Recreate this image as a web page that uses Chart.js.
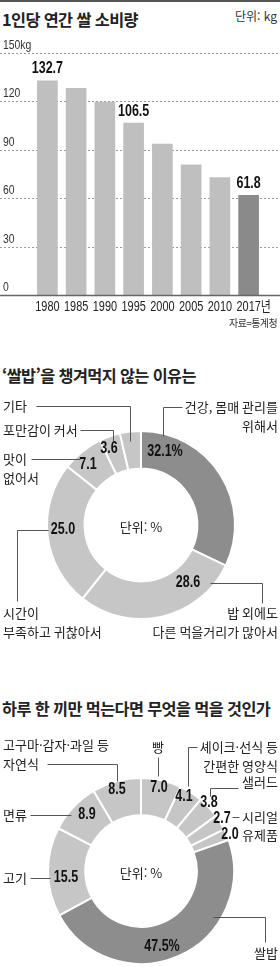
<!DOCTYPE html>
<html lang="ko">
<head>
<meta charset="utf-8">
<script src="https://cdn.jsdelivr.net/npm/chart.js@4.4.1/dist/chart.umd.min.js"></script>
<style>
  body { margin: 0; width: 280px; height: 967px; background: #fff; position: relative; overflow: hidden;
         font-family: "Noto Sans CJK KR", sans-serif; color: #222; }
  .topline { position: absolute; left: 0; top: 0; width: 280px; height: 2px; background: #555; }
  .title { position: absolute; left: 2px; font-size: 16.3px; font-weight: 700; line-height: 16px; letter-spacing: -0.6px; white-space: nowrap; }
  .note { position: absolute; right: 3px; line-height: 1; white-space: nowrap; }
  canvas { position: absolute; left: 0; }
</style>
</head>
<body>
<div class="topline"></div>
<div class="title" style="top:11px">1인당 연간 쌀 소비량</div>
<div class="note" style="top:10px; font-size:12px; color:#333">단위: kg</div>
<canvas id="riceChart" width="280" height="290" style="top:30px"></canvas>
<div class="note" style="top:318px; font-size:10px; color:#333; letter-spacing:-0.6px">자료=통계청</div>

<div class="title" style="top:367px">‘쌀밥’을 챙겨먹지 않는 이유는</div>
<canvas id="skipChart" width="280" height="250" style="top:395px"></canvas>

<div class="title" style="top:700px">하루 한 끼만 먹는다면 무엇을 먹을 것인가</div>
<canvas id="mealChart" width="280" height="242" style="top:725px"></canvas>

<script>
// 1인당 연간 쌀 소비량 (kg)
const years = ['1980', '1985', '1990', '1995', '2000', '2005', '2010', '2017년'];
const riceKg = [132.7, 128.1, 119.6, 106.5, 93.6, 80.7, 72.8, 61.8];
const kgTicks = [0, 30, 60, 90, 120, 150];
const kgTickLabels = ['0', '30', '60', '90', '120', '150kg'];
const labelledYears = ['1980', '1995', '2017년'];

// '쌀밥'을 챙겨먹지 않는 이유 (%)
const skipReasons = [
  ['건강, 몸매 관리를', '위해서'],
  ['밥 외에도', '다른 먹을거리가 많아서'],
  ['시간이', '부족하고 귀찮아서'],
  ['맛이', '없어서'],
  ['포만감이 커서'],
  ['기타']
];
const skipShares = [32.1, 28.6, 25.0, 7.1, 3.6, 3.6];

// 하루 한 끼만 먹는다면 (%)
const mealFoods = [
  ['빵'],
  ['셰이크·선식 등', '간편한 영양식'],
  ['샐러드'],
  ['시리얼'],
  ['유제품'],
  ['쌀밥'],
  ['고기'],
  ['면류'],
  ['고구마·감자·과일 등', '자연식']
];
const mealShares = [7.0, 4.1, 3.8, 2.7, 2.0, 47.5, 15.5, 8.9, 8.5];

const NUM_FONT = '"Liberation Sans", "Noto Sans CJK KR", sans-serif';
const KR_FONT = '"Noto Sans CJK KR", sans-serif';
const LIGHT = '#c6c6c6';
const DARK = '#8d8d8d';
const INK = '#222';
const LEADER = '#555';

// the print uses a condensed face for figures, so squeeze them horizontally
function narrowText(ctx, text, x, y, font, squeeze, align) {
  ctx.save();
  ctx.font = font;
  ctx.textAlign = 'left';
  ctx.textBaseline = 'middle';
  const w = ctx.measureText(text).width * squeeze;
  const left = align === 'center' ? x - w / 2 : align === 'right' ? x - w : x;
  ctx.translate(left, y);
  ctx.scale(squeeze, 1);
  ctx.fillText(text, 0, 0);
  ctx.restore();
}

const kgGrid = {
  id: 'kgGrid',
  beforeDatasetsDraw(chart) {
    const { ctx, width } = chart;
    const y = chart.scales.y;
    ctx.save();
    ctx.fillStyle = '#333';
    kgTicks.forEach((v, i) => {
      const py = Math.round(y.getPixelForValue(v)) + 0.5;
      if (v !== 0) {
        ctx.beginPath();
        ctx.setLineDash([2, 2]);
        ctx.strokeStyle = '#999';
        ctx.lineWidth = 1;
        ctx.moveTo(0, py);
        ctx.lineTo(width, py);
        ctx.stroke();
      }
      narrowText(ctx, kgTickLabels[i], 3, py - 8, `13px ${NUM_FONT}`, 0.8, 'left');
    });
    ctx.restore();
  },
  afterDatasetsDraw(chart) {
    const { ctx, width } = chart;
    const y = chart.scales.y;
    const x = chart.scales.x;
    const meta = chart.getDatasetMeta(0);
    ctx.save();
    const py = Math.round(y.getPixelForValue(0)) + 0.5;
    ctx.strokeStyle = '#666';
    ctx.lineWidth = 1.5;
    ctx.beginPath();
    ctx.moveTo(0, py);
    ctx.lineTo(width, py);
    ctx.stroke();

    // year labels: the digits sit centred under the bar, a unit suffix hangs to the right
    const yearFont = `14px ${NUM_FONT}`;
    ctx.font = yearFont;
    ctx.fillStyle = INK;
    years.forEach((yr, i) => {
      const digits = yr.replace(/\D/g, '');
      const shift = (ctx.measureText(yr).width - ctx.measureText(digits).width) * 0.78 / 2;
      narrowText(ctx, yr, x.getPixelForValue(i) + shift, py + 12, yearFont, 0.78, 'center');
    });

    ctx.fillStyle = '#111';
    years.forEach((yr, i) => {
      if (!labelledYears.includes(yr)) return;
      const bar = meta.data[i];
      narrowText(ctx, riceKg[i].toFixed(1), bar.x, bar.y - 12, `bold 16px ${NUM_FONT}`, 0.78, 'center');
    });
    ctx.restore();
  }
};

new Chart(document.getElementById('riceChart'), {
  type: 'bar',
  data: {
    labels: years,
    datasets: [{
      data: riceKg,
      backgroundColor: years.map((_, i) => i === years.length - 1 ? '#8a8a8a' : '#bfbfbf'),
      barThickness: 20
    }]
  },
  options: {
    responsive: false,
    animation: false,
    layout: { padding: { left: 33, right: 17, top: 23, bottom: 25 } },
    plugins: { legend: { display: false }, tooltip: { enabled: false } },
    scales: {
      y: { display: false, min: 0, max: 150 },
      x: { display: false }
    }
  },
  plugins: [kgGrid]
});

// leader lines, outside labels and in-ring values, placed relative to the ring centre
const callouts = {
  id: 'callouts',
  afterDatasetsDraw(chart, args, opts) {
    const { ctx } = chart;
    const meta = chart.getDatasetMeta(0);
    const cx = meta.data[0].x;
    const cy = meta.data[0].y;
    const labels = chart.data.labels;
    const values = chart.data.datasets[0].data;
    ctx.save();

    ctx.font = `13px ${KR_FONT}`;
    ctx.fillStyle = INK;
    ctx.textAlign = 'center';
    ctx.textBaseline = 'middle';
    ctx.fillText('단위: %', cx, cy + 2);

    opts.items.forEach((item, i) => {
      if (item.leader) {
        ctx.strokeStyle = LEADER;
        ctx.lineWidth = 1;
        ctx.beginPath();
        item.leader.forEach(([dx, dy], k) => {
          const px = Math.round(cx + dx) + 0.5;
          const py = Math.round(cy + dy) + 0.5;
          if (k) ctx.lineTo(px, py); else ctx.moveTo(px, py);
        });
        ctx.stroke();
      }

      ctx.font = `13px ${KR_FONT}`;
      ctx.fillStyle = INK;
      ctx.textAlign = item.align;
      ctx.textBaseline = 'middle';
      labels[i].forEach((line, k) => {
        ctx.fillText(line, cx + item.x, cy + item.y + k * 19);
      });

      if (item.value) {
        const text = values[i].toFixed(1) + (i === opts.percentAt ? '%' : '');
        ctx.fillStyle = '#111';
        narrowText(ctx, text, cx + item.value[0], cy + item.value[1], `bold 16px ${NUM_FONT}`, 0.78, 'center');
      }
    });
    ctx.restore();
  }
};

const ringOptions = (padding, items, percentAt) => ({
  responsive: false,
  animation: false,
  cutout: '60%',
  layout: { padding },
  plugins: {
    legend: { display: false },
    tooltip: { enabled: false },
    callouts: { items, percentAt }
  }
});

new Chart(document.getElementById('skipChart'), {
  type: 'doughnut',
  data: {
    labels: skipReasons,
    datasets: [{
      data: skipShares,
      backgroundColor: skipShares.map((_, i) => i === 0 ? DARK : LIGHT),
      borderColor: '#fff',
      borderWidth: 2
    }]
  },
  options: ringOptions({ left: 46, right: 44, top: 35, bottom: 25 }, [
    { align: 'right', x: 137, y: -118, value: [24, -73], leader: [[41, -118], [22, -118], [22, -89]] },
    { align: 'right', x: 137, y: 88, value: [47, 58], leader: [[69, 58], [121, 58], [121, 78]] },
    { align: 'left', x: -138, y: 88, value: [-78, 5], leader: [[-93, 5], [-124, 5], [-124, 76]] },
    { align: 'left', x: -138, y: -66, value: [-53, -60], leader: [[-110, -66], [-61, -66]] },
    { align: 'left', x: -138, y: -95, value: [-32, -76], leader: [[-61, -95], [-28, -95], [-28, -83]] },
    { align: 'left', x: -138, y: -119, leader: [[-105, -119], [-11, -119], [-11, -84]] }
  ], 0),
  plugins: [callouts]
});

new Chart(document.getElementById('mealChart'), {
  type: 'doughnut',
  data: {
    labels: mealFoods,
    datasets: [{
      data: mealShares,
      backgroundColor: mealShares.map((_, i) => i === 5 ? DARK : LIGHT),
      borderColor: '#fff',
      borderWidth: 2
    }]
  },
  options: ringOptions({ left: 47, right: 45, top: 52, bottom: 2 }, [
    { align: 'center', x: 17, y: -124, value: [18, -83], leader: [[17, -114], [17, -95]] },
    { align: 'right', x: 137, y: -124, value: [43, -74], leader: [[56, -124], [47, -124], [47, -85]] },
    { align: 'right', x: 137, y: -89, value: [68, -68], leader: [[97, -83], [69, -83], [69, -75]] },
    { align: 'right', x: 137, y: -54, value: [81, -52], leader: [[91, -54], [98, -54]] },
    { align: 'right', x: 137, y: -36, value: [89, -36] },
    { align: 'right', x: 137, y: 82, value: [21, 76], leader: [[72, 46], [124, 46], [124, 71]] },
    { align: 'left', x: -138, y: 7, value: [-75, 7], leader: [[-111, 7], [-91, 7]] },
    { align: 'left', x: -138, y: -56, value: [-54, -56], leader: [[-111, -56], [-70, -56]] },
    { align: 'left', x: -138, y: -126, value: [-24, -81], leader: [[-94, -107], [-24, -107], [-24, -90]] }
  ], 5),
  plugins: [callouts]
});
</script>
</body>
</html>
